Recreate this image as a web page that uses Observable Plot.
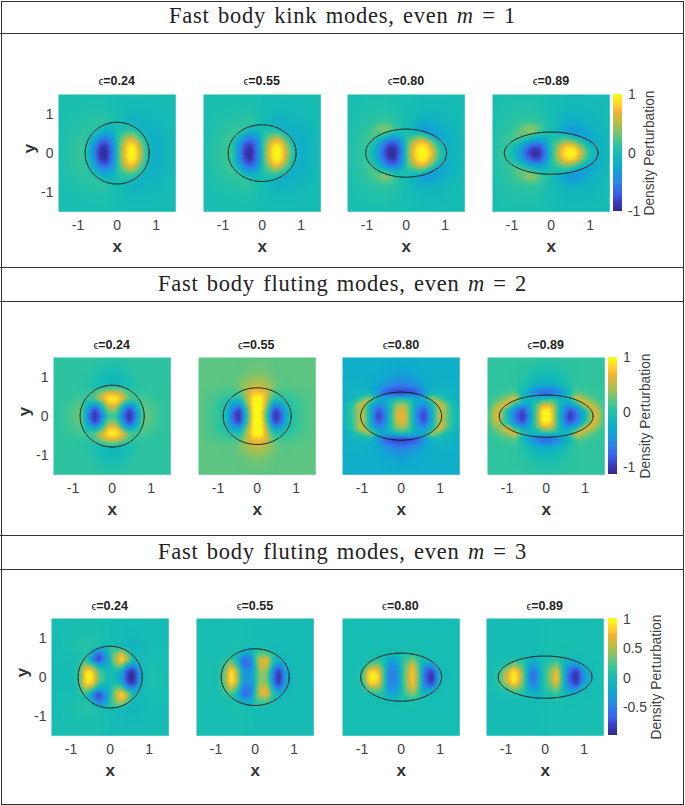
<!DOCTYPE html>
<html><head><meta charset="utf-8">
<script src="https://cdn.jsdelivr.net/npm/d3@7"></script>
<script src="https://cdn.jsdelivr.net/npm/@observablehq/plot@0.6"></script>
<style>
html,body{margin:0;padding:0;background:#fff}
#page{position:relative;width:685px;height:805px;overflow:hidden;font-family:"Liberation Sans",sans-serif}
#page>*{position:absolute}
.hline{left:0;width:683.5px;height:1.4px;background:#333}
.sec{left:0;width:685px;text-align:center;font-family:"Liberation Serif",serif;font-size:22.5px;letter-spacing:.75px;word-spacing:2px;line-height:28px;color:#222}
.pt{width:120px;text-align:center;font-weight:bold;font-size:12.5px;line-height:14px;color:#222}
.pt span{font-weight:normal;font-size:11px}
</style></head><body><div id="page"></div>
<script>
// grid positions (data units); rows are mirrored about y = 0
const xs = [-1.5,-1.25,-1,-.8,-.6,-.45,-.3,-.1,.1,.3,.45,.6,.8,1,1.25,1.5];
const ys = [0,.15,.3,.45,.6,.8,1.1,1.5];
const eccentricities = ["0.24","0.55","0.80","0.89"];
const semiA = [.82,.87,1.035,1.2];
const semiB = [.79,.725,.615,.54];

// values, in hundredths of the colour range
const kink024 = [
[2,8,16,14,-45,-92,-100,-50,45,100,98,55,-8,-20,-7,-1],
[2,8,15,14,-40,-85,-95,-46,42,97,92,48,-8,-19,-7,-1],
[2,7,14,14,-25,-62,-72,-38,32,78,68,32,-8,-18,-7,-1],
[2,6,11,15,-8,-30,-42,-22,18,44,34,10,-12,-15,-6,-1],
[2,5,8,12,10,-4,-12,-7,5,10,3,-10,-13,-11,-5,-1],
[1,4,6,8,10,12,10,2,-2,-10,-13,-13,-9,-7,-4,-1],
[1,2,3,4,5,5,4,1,-1,-4,-5,-6,-5,-3,-2,-1],
[1,1,1,1,1,1,1,0,-1,-1,-1,-1,-1,-1,-1,-1]];
const kink055 = [
[2,8,16,20,-40,-88,-100,-50,42,100,100,62,3,-20,-8,-2],
[2,8,15,18,-36,-80,-95,-46,40,97,95,55,0,-19,-8,-2],
[2,7,14,18,-22,-60,-72,-38,30,74,70,34,-6,-18,-8,-2],
[2,6,11,20,3,-26,-38,-22,15,36,30,8,-16,-15,-7,-2],
[2,5,9,14,17,8,-5,-5,3,4,-10,-20,-16,-12,-6,-2],
[1,4,6,8,10,13,12,3,-3,-12,-14,-13,-9,-7,-4,-1],
[1,2,3,3,4,5,4,1,-1,-4,-5,-5,-4,-3,-2,-1],
[1,1,1,1,1,1,1,0,-1,-1,-1,-1,-1,-1,-1,-1]];
const kink080 = [
[3,10,14,-15,-65,-96,-100,-48,52,98,100,88,28,-10,-9,-3],
[3,10,15,-10,-56,-88,-92,-42,48,92,97,75,18,-12,-9,-3],
[3,9,18,3,-32,-60,-65,-28,34,66,72,44,-5,-18,-10,-3],
[3,8,17,24,10,-10,-15,-7,7,18,10,-14,-30,-18,-9,-3],
[2,7,13,24,42,36,18,3,-4,-20,-40,-38,-24,-14,-7,-2],
[2,5,9,12,15,15,10,2,-2,-12,-16,-15,-12,-8,-4,-2],
[1,3,5,6,6,6,4,1,-1,-4,-6,-6,-6,-4,-3,-1],
[1,1,2,2,2,2,1,0,0,-1,-2,-2,-2,-2,-1,-1]];
const kink089 = [
[4,16,0,-32,-78,-98,-95,-38,32,84,100,100,52,2,-14,-4],
[4,15,3,-22,-62,-82,-80,-32,28,72,90,84,36,-6,-14,-4],
[4,13,14,5,-18,-35,-36,-16,15,35,40,28,-2,-22,-13,-4],
[3,10,18,30,24,10,0,-2,2,2,-8,-20,-32,-24,-11,-3],
[3,8,14,26,44,42,25,5,-5,-25,-42,-42,-28,-16,-8,-3],
[2,6,10,12,15,15,11,3,-3,-11,-15,-16,-13,-9,-6,-2],
[2,4,6,6,7,6,5,2,-2,-5,-7,-7,-7,-6,-4,-2],
[1,2,3,3,3,2,2,0,-1,-2,-2,-3,-3,-2,-2,-1]];
const flute2024 = [
[12,15,24,32,-55,-100,-68,15,15,-68,-100,-55,32,24,15,12],
[12,15,22,30,-40,-88,-48,35,35,-48,-88,-40,30,22,15,12],
[12,14,20,26,-10,-35,-5,75,75,-5,-35,-10,26,20,14,12],
[12,13,16,20,18,25,62,97,97,62,25,18,20,16,13,12],
[12,12,13,13,13,15,38,62,62,38,15,13,13,13,12,12],
[12,12,12,10,6,2,-4,-10,-10,-4,2,6,10,12,12,12],
[12,12,12,12,11,7,3,-2,-2,3,7,11,12,12,12,12],
[12,12,12,12,12,12,11,10,10,11,12,12,12,12,12,12]];
const flute2055 = [
[26,22,14,0,-75,-98,-22,98,98,-22,-98,-75,0,14,22,26],
[26,22,14,0,-66,-88,-12,100,100,-12,-88,-66,0,14,22,26],
[26,22,15,5,-30,-40,22,100,100,22,-40,-30,5,15,22,26],
[26,23,18,12,6,5,40,100,100,40,5,6,12,18,23,26],
[26,24,22,20,18,22,48,75,75,48,22,18,20,22,24,26],
[26,26,26,25,26,34,44,52,52,44,34,26,25,26,26,26],
[26,26,26,26,26,27,30,33,33,30,27,26,26,26,26,26],
[26,26,26,26,26,26,26,26,26,26,26,26,26,26,26,26]];
const flute2080 = [
[-12,15,65,-15,-88,-65,-10,68,68,-10,-65,-88,-15,65,15,-12],
[-12,14,60,-12,-75,-56,-8,62,62,-8,-56,-75,-12,60,14,-12],
[-13,8,70,-8,-40,-32,-5,42,42,-5,-32,-40,-8,70,8,-13],
[-14,-6,14,50,-15,-20,-14,-2,-2,-14,-20,-15,50,14,-6,-14],
[-15,-12,-6,-10,-38,-68,-80,-88,-88,-80,-68,-38,-10,-6,-12,-15],
[-16,-15,-15,-17,-24,-34,-44,-52,-52,-44,-34,-24,-17,-15,-15,-16],
[-17,-17,-17,-18,-18,-21,-24,-28,-28,-24,-21,-18,-18,-17,-17,-17],
[-18,-18,-18,-18,-18,-18,-18,-18,-18,-18,-18,-18,-18,-18,-18,-18]];
const flute2089 = [
[14,72,-5,-60,-95,-50,5,100,100,5,-50,-95,-60,-5,72,14],
[14,66,0,-50,-80,-40,10,95,95,10,-40,-80,-50,0,66,14],
[14,42,70,-2,-28,-18,8,58,58,8,-18,-28,-2,70,42,14],
[13,22,38,70,5,-8,-10,-4,-4,-10,-8,5,70,38,22,13],
[13,15,20,25,-5,-30,-52,-72,-72,-52,-30,-5,25,20,15,13],
[13,13,13,12,6,-3,-12,-20,-20,-12,-3,6,12,13,13,13],
[13,13,13,12,10,7,3,0,0,3,7,10,12,13,13,13],
[13,13,13,13,13,13,12,11,11,12,13,13,13,13,13,13]];
const flute3024 = [
[-1,-2,-3,12,100,92,32,3,-3,-32,-92,-100,-12,5,2,0],
[-1,-2,-3,10,95,82,22,-3,3,-22,-82,-95,-10,5,2,0],
[0,-1,-2,6,45,25,-30,-22,22,35,-25,-45,-6,3,1,0],
[0,0,0,4,5,-50,-92,-38,38,97,50,-5,-4,0,0,0],
[0,0,1,3,6,-24,-68,-28,30,68,24,-6,-5,-1,0,0],
[0,1,3,8,10,8,4,0,0,-6,-9,-10,-6,-2,-1,-1],
[1,1,1,2,3,3,2,0,-1,-3,-4,-4,-3,-2,-1,-1],
[1,1,1,1,1,1,1,0,-1,-1,-1,-1,-1,-1,-1,-1]];
const flute3055 = [
[1,2,0,28,100,50,-35,-38,38,35,-50,-100,-28,-2,-2,-1],
[1,2,0,24,95,42,-40,-42,42,40,-42,-95,-24,-1,-2,-1],
[1,2,1,14,55,8,-65,-55,55,65,-8,-55,-14,0,-2,-1],
[1,1,1,5,12,-12,-70,-50,55,75,10,-12,-5,0,-1,-1],
[1,1,1,2,3,-3,-24,-18,20,26,3,-3,-2,-1,-1,-1],
[1,1,1,1,2,5,3,0,-1,-3,-3,-3,-1,-1,-1,-1],
[1,1,1,1,1,1,1,0,-2,-2,-2,-2,-2,-1,-1,-1],
[1,1,1,1,1,1,1,0,-1,-1,-1,-1,-1,-1,-1,-1]];
const flute3080 = [
[0,0,10,100,92,20,-60,-45,32,85,28,-68,-100,-6,0,0],
[0,0,6,88,80,15,-56,-42,30,80,24,-58,-88,-5,0,0],
[0,0,1,34,40,6,-46,-36,26,68,20,-32,-34,-1,0,0],
[0,0,0,1,3,-1,-24,-20,16,38,10,-3,-1,0,0,0],
[0,0,0,0,1,0,-3,-2,3,6,3,0,0,0,0,0],
[0,0,0,0,0,0,0,0,0,0,1,0,0,0,0,0],
[0,0,0,0,0,0,0,0,0,0,0,0,0,0,0,0],
[0,0,0,0,0,0,0,0,0,0,0,0,0,0,0,0]];
const flute3089 = [
[-1,3,60,100,55,-32,-72,-10,32,85,0,-68,-100,-38,0,1],
[-1,2,48,95,45,-26,-64,-8,28,75,0,-58,-92,-30,0,1],
[-1,1,10,45,22,-14,-38,-5,16,42,0,-32,-46,-6,0,1],
[-1,-1,1,6,3,-6,-12,-2,3,12,1,-6,-6,0,1,1],
[-1,-1,-1,-1,-1,-3,-4,-2,2,5,3,0,1,1,1,1],
[-1,-1,-1,-1,-1,-1,-1,0,1,1,1,1,1,1,1,1],
[-1,-1,-1,-1,-1,-1,-1,0,1,1,1,1,1,1,1,1],
[-1,-1,-1,-1,-1,-1,-1,0,1,1,1,1,1,1,1,1]];

// parula colour map
const parulaT = [0,.08,.16,.25,.375,.5,.58,.68,.78,.85,.92,.97,1];
const parulaC = ["#32288a","#3a3dc0","#3a62ee","#2a86e6","#0ea8d2","#16bdb2","#35c59a","#82c46a","#c8bb3c","#f5b035","#fed82a","#f9f318","#f9fb14"];

const sectionTitles = [
 'Fast body kink modes, even <i>m</i> = 1',
 'Fast body fluting modes, even <i>m</i> = 2',
 'Fast body fluting modes, even <i>m</i> = 3'];
const sections = [
 {title:16,top:94,left:[58,203,347.3,492.3],ttl:74,bar:613.3,dom:[-1,1],ticks:[-1,0,1],lab:650,panels:[kink024,kink055,kink080,kink089]},
 {title:284,top:357,left:[53,197.5,342.3,487],ttl:338,bar:608.3,dom:[-1.14,1],ticks:[-1,0,1],lab:646,panels:[flute2024,flute2055,flute2080,flute2089]},
 {title:552,top:618,left:[51,196.3,341.7,486],ttl:599,bar:608.3,dom:[-.98,1.02],ticks:[-.5,0,.5,1],lab:657,panels:[flute3024,flute3055,flute3080,flute3089]}
];
const W = 117.3, ML = 40, MB = 48, MT = 2, MR = 2;
const font = {fontFamily:'"Liberation Sans",sans-serif',fontSize:"14px",background:"transparent",overflow:"visible"};
const page = document.getElementById("page");
function place(el,l,t){el.style.position="absolute";el.style.left=l+"px";el.style.top=t+"px";page.appendChild(el);return el;}
function div(cls,html,l,t){const d=document.createElement("div");d.className=cls;d.innerHTML=html;return place(d,l,t);}

function toPoints(rows){
  const pts=[];
  rows.forEach((r,j)=>r.forEach((v,i)=>{
    pts.push({x:xs[i],y:ys[j],v:v/100});
    if(ys[j]>0) pts.push({x:xs[i],y:-ys[j],v:v/100});
  }));
  return pts;
}
function outline(a,b){return d3.range(0,361,3).map(t=>({x:a*Math.cos(t*Math.PI/180),y:b*Math.sin(t*Math.PI/180)}));}

function panel(rows,k,showY){
  return Plot.plot({
    width:W+ML+MR,height:W+MT+MB,marginLeft:ML,marginRight:MR,marginTop:MT,marginBottom:MB,style:font,
    x:{domain:[-1.5,1.5]},y:{domain:[-1.5,1.5],axis:showY?undefined:null},
    color:{type:"linear",domain:parulaT.map(t=>-1+2*t),range:parulaC,clamp:true},
    marks:[
      Plot.raster(toPoints(rows),{x:"x",y:"y",fill:"v",interpolate:"barycentric",blur:1,x1:-1.5,x2:1.5,y1:-1.5,y2:1.5}),
      Plot.line(outline(semiA[k],semiB[k]),{x:"x",y:"y",stroke:"#111",strokeWidth:.9}),
      Plot.axisX({ticks:[-1,0,1],tickSize:0,tickPadding:8,tickFormat:String,label:null,fill:"#404040"}),
      showY?Plot.axisY({ticks:[-1,0,1],tickSize:0,tickPadding:5,tickFormat:String,label:null,fill:"#404040"}):null,
      Plot.text(["x"],{frameAnchor:"bottom",dy:40,fontWeight:"bold",fontSize:17,fill:"#333"}),
      showY?Plot.text(["y"],{frameAnchor:"left",dx:-29,rotate:-90,fontWeight:"bold",fontSize:17,fill:"#333"}):null
    ]
  });
}
function colorbar(s){
  const [lo,hi]=s.dom, n=128, step=(hi-lo)/n;
  const levels=d3.range(n).map(i=>lo+i*step);
  return Plot.plot({
    width:9.4+30,height:W+MT+2,marginLeft:0,marginRight:30,marginTop:MT,marginBottom:2,style:font,
    x:{domain:[0,1],axis:null},
    y:{domain:[lo,hi],axis:null},
    color:{type:"linear",domain:parulaT.map(t=>lo+t*(hi-lo)),range:parulaC},
    marks:[
      Plot.rect(levels,{x1:0,x2:1,y1:d=>d,y2:d=>d+step,fill:d=>d+step/2,shapeRendering:"crispEdges"}),
      Plot.axisY({anchor:"right",ticks:s.ticks,tickSize:0,tickPadding:5,tickFormat:String,label:null,fill:"#404040"})
    ]
  });
}

sections.forEach((s,r)=>{
  div("sec",sectionTitles[r],0,s.title-14);
  s.panels.forEach((rows,k)=>{
    place(panel(rows,k,k===0),s.left[k]-ML,s.top-MT);
    div("pt",'<span>ϵ</span>=' + eccentricities[k],s.left[k]+W/2-60,s.ttl);
  });
  place(colorbar(s),s.bar,s.top-MT);
  const lab=div("dp","Density Perturbation",s.lab-70,s.top+W/2-8);
  lab.style.cssText+=";width:140px;text-align:center;font-size:13.8px;line-height:16px;color:#404040;transform:rotate(-90deg)";
});

// frame and dividing rules
[33,267,300.5,535,568.5].forEach(y=>div("hline","",0,y));
const frame=div("","",0.5,0.5);
frame.style.cssText+=";width:681.5px;height:802px;border:1.4px solid #333;box-sizing:content-box;pointer-events:none";
</script></body></html>
